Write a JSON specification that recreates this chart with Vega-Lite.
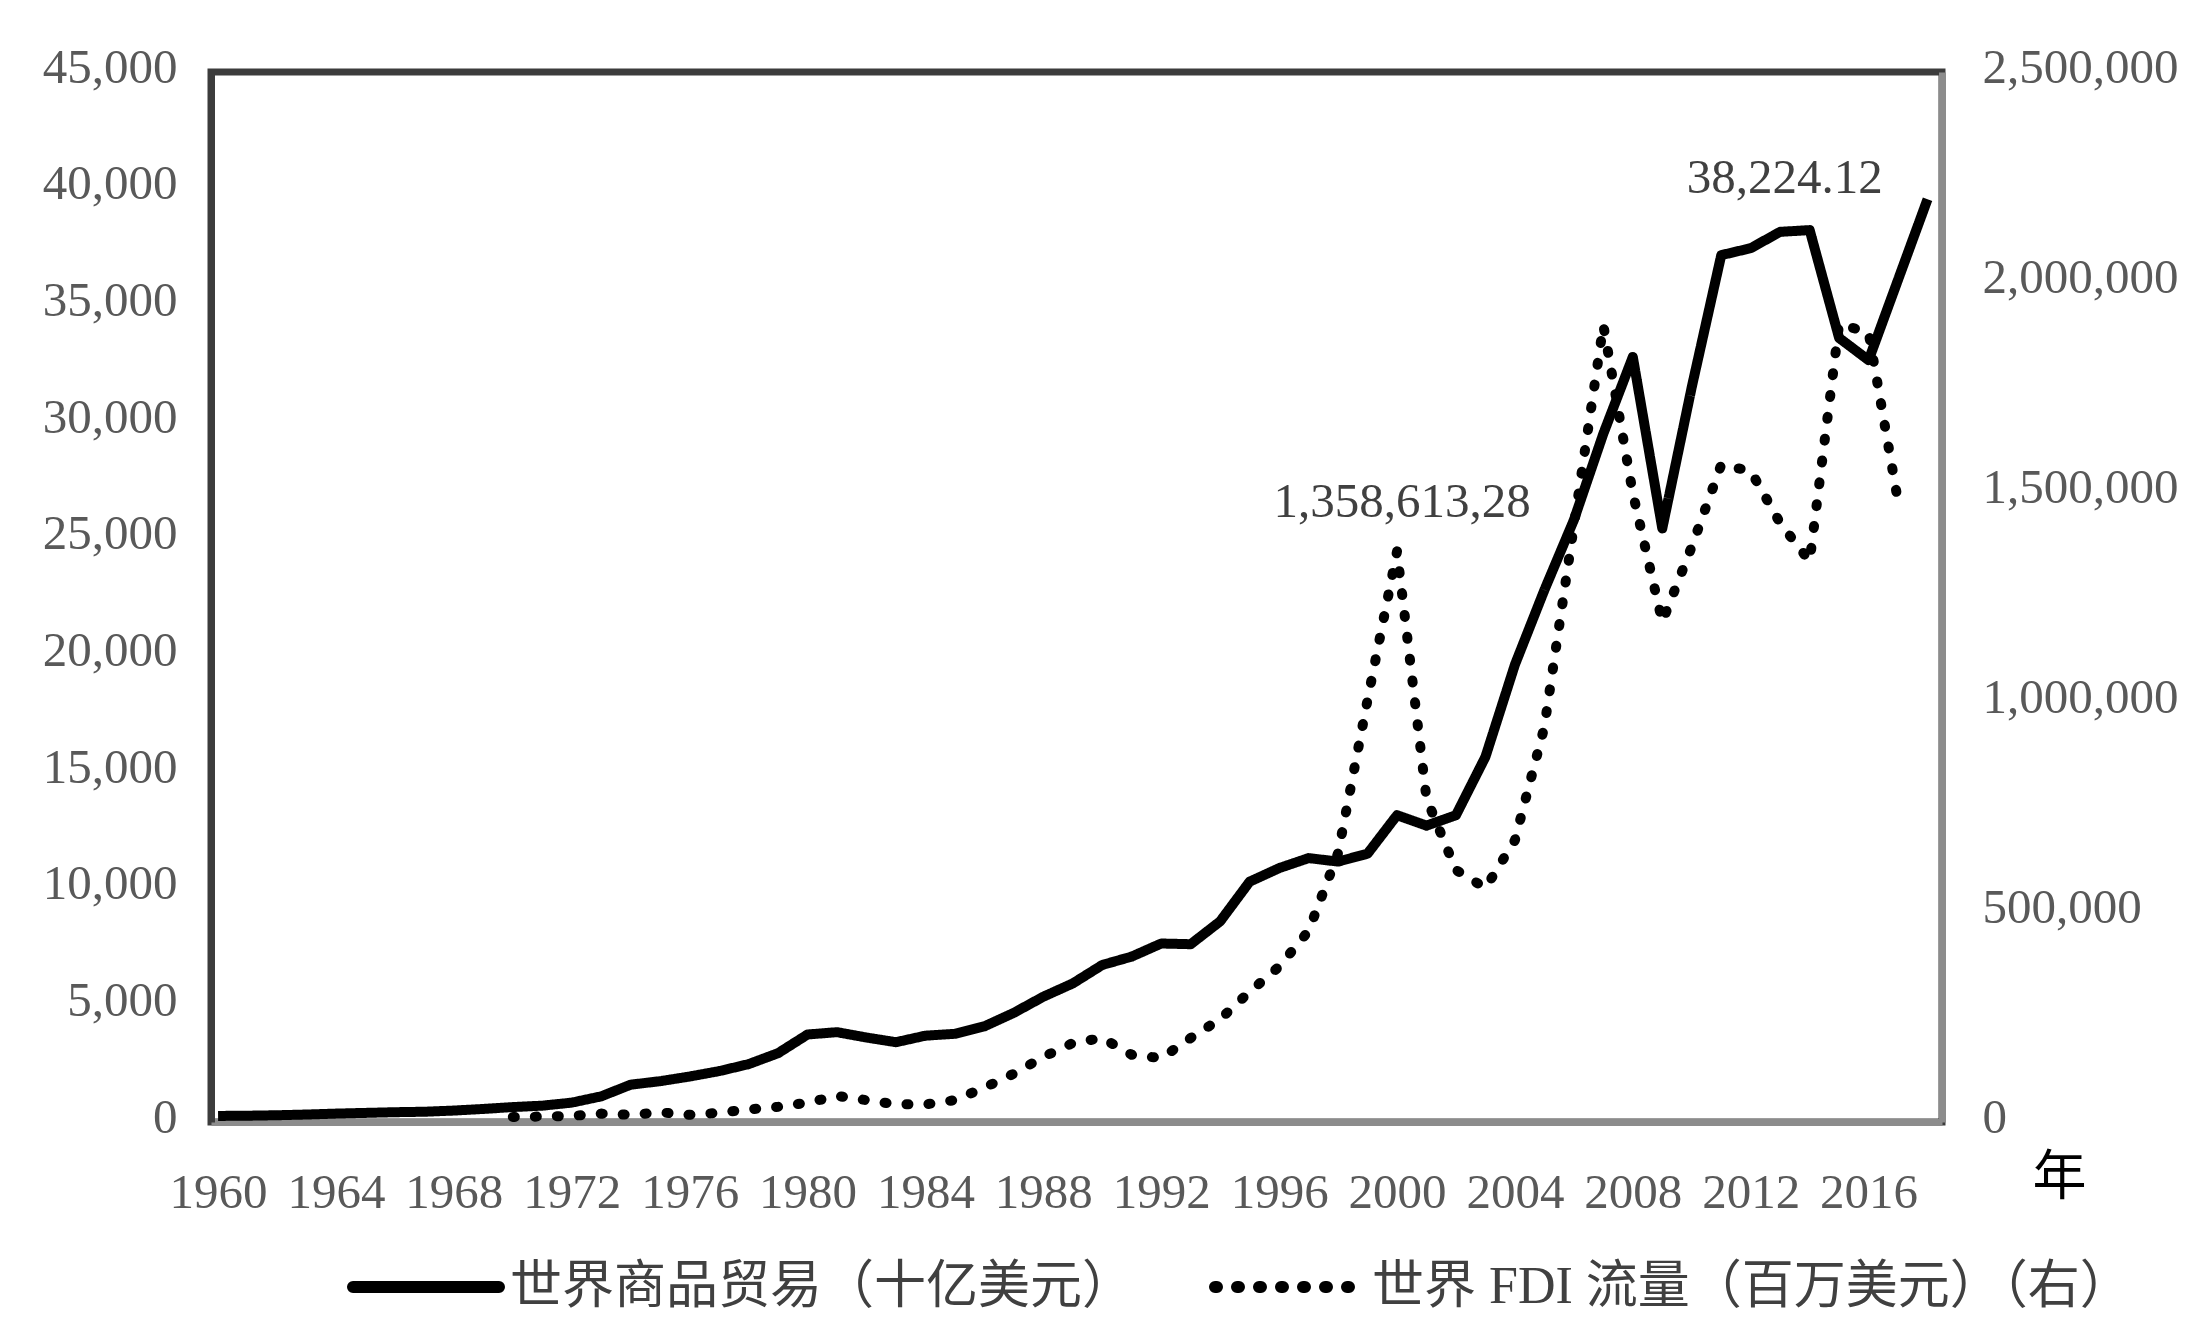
{
  "$schema": "https://vega.github.io/schema/vega-lite/v6.json",
  "width": 1731,
  "height": 1050,
  "autosize": {"type": "none"},
  "padding": {"left": 211, "top": 72, "right": 266, "bottom": 209},
  "background": "white",
  "config": {
    "view": {"stroke": "#3c3c3c", "strokeWidth": 7},
    "axis": {
      "grid": false,
      "ticks": false,
      "tickSize": 0,
      "labelFont": "Liberation Serif",
      "labelFontSize": 49,
      "labelColor": "#595959",
      "labelLimit": 1000,
      "domainWidth": 7,
      "zindex": 1
    },
    "text": {"font": "Liberation Serif", "fontSize": 49, "fill": "#404040"}
  },
  "data": {
    "values": [
      {"year": 1960, "trade": 260},
      {"year": 1961, "trade": 270},
      {"year": 1962, "trade": 290},
      {"year": 1963, "trade": 320},
      {"year": 1964, "trade": 360},
      {"year": 1965, "trade": 390},
      {"year": 1966, "trade": 420},
      {"year": 1967, "trade": 440},
      {"year": 1968, "trade": 490},
      {"year": 1969, "trade": 560},
      {"year": 1970, "trade": 640, "fdi": 12000},
      {"year": 1971, "trade": 700, "fdi": 13000},
      {"year": 1972, "trade": 830, "fdi": 14500},
      {"year": 1973, "trade": 1100, "fdi": 20000},
      {"year": 1974, "trade": 1600, "fdi": 17000},
      {"year": 1975, "trade": 1750, "fdi": 23000},
      {"year": 1976, "trade": 1950, "fdi": 17000},
      {"year": 1977, "trade": 2180, "fdi": 22000},
      {"year": 1978, "trade": 2480, "fdi": 30000},
      {"year": 1979, "trade": 2950, "fdi": 36000},
      {"year": 1980, "trade": 3750, "fdi": 46000},
      {"year": 1981, "trade": 3850, "fdi": 62000},
      {"year": 1982, "trade": 3620, "fdi": 52000},
      {"year": 1983, "trade": 3420, "fdi": 42000},
      {"year": 1984, "trade": 3700, "fdi": 42000},
      {"year": 1985, "trade": 3780, "fdi": 52000},
      {"year": 1986, "trade": 4100, "fdi": 82000},
      {"year": 1987, "trade": 4680, "fdi": 115000},
      {"year": 1988, "trade": 5370, "fdi": 155000},
      {"year": 1989, "trade": 5940, "fdi": 188000},
      {"year": 1990, "trade": 6730, "fdi": 200000},
      {"year": 1991, "trade": 7090, "fdi": 160000},
      {"year": 1992, "trade": 7650, "fdi": 152000},
      {"year": 1993, "trade": 7620, "fdi": 200000},
      {"year": 1994, "trade": 8600, "fdi": 245000},
      {"year": 1995, "trade": 10300, "fdi": 310000},
      {"year": 1996, "trade": 10880, "fdi": 370000},
      {"year": 1997, "trade": 11310, "fdi": 455000},
      {"year": 1998, "trade": 11160, "fdi": 640000},
      {"year": 1999, "trade": 11500, "fdi": 1005000},
      {"year": 2000, "trade": 13150, "fdi": 1358613.28},
      {"year": 2001, "trade": 12700, "fdi": 770000},
      {"year": 2002, "trade": 13150, "fdi": 600000},
      {"year": 2003, "trade": 15650, "fdi": 557000},
      {"year": 2004, "trade": 19600, "fdi": 671000},
      {"year": 2005, "trade": 22800, "fdi": 941000},
      {"year": 2006, "trade": 25800, "fdi": 1420000},
      {"year": 2007, "trade": 29500, "fdi": 1897000},
      {"year": 2008, "trade": 32790, "fdi": 1497000},
      {"year": 2009, "trade": 25440, "fdi": 1191000},
      {"year": 2010, "trade": 31500, "fdi": 1370000},
      {"year": 2011, "trade": 37150, "fdi": 1565000},
      {"year": 2012, "trade": 37450, "fdi": 1550000},
      {"year": 2013, "trade": 38150, "fdi": 1426000},
      {"year": 2014, "trade": 38224.12, "fdi": 1335000},
      {"year": 2015, "trade": 33600, "fdi": 1900000},
      {"year": 2016, "trade": 32650, "fdi": 1880000},
      {"year": 2017, "trade": 36100, "fdi": 1477000},
      {"year": 2018, "trade": 39550}
    ]
  },
  "encoding": {
    "x": {
      "field": "year",
      "type": "quantitative",
      "scale": {"domain": [1959.76, 2018.49], "nice": false, "zero": false},
      "axis": {
        "values": [1960, 1964, 1968, 1972, 1976, 1980, 1984, 1988, 1992, 1996, 2000, 2004, 2008, 2012, 2016],
        "format": "d",
        "labelBaseline": "alphabetic",
        "labelPadding": 85,
        "labelFlush": false,
        "labelOverlap": false,
        "domainColor": "#8c8c8c",
        "title": "年",
        "titleFont": "Noto Sans CJK SC",
        "titleFontSize": 54,
        "titleFontWeight": "normal",
        "titleColor": "#000000",
        "titleX": 1848,
        "titleY": 56,
        "titleAlign": "center",
        "titleBaseline": "middle"
      }
    }
  },
  "layer": [
    {
      "layer": [
        {
          "mark": {"type": "line", "color": "#000000", "strokeWidth": 10, "strokeJoin": "round"},
          "encoding": {
            "y": {
              "field": "trade",
              "type": "quantitative",
              "scale": {"domain": [0, 45000], "nice": false},
              "axis": {
                "orient": "left",
                "values": [0, 5000, 10000, 15000, 20000, 25000, 30000, 35000, 40000, 45000],
                "format": ",.0f",
                "labelPadding": 34,
                "labelOffset": -5,
                "domainColor": "#3c3c3c",
                "title": null
              }
            },
            "strokeDash": {
              "datum": "世界商品贸易（十亿美元）",
              "type": "nominal",
              "scale": {
                "domain": ["世界商品贸易（十亿美元）", "世界 FDI 流量（百万美元）（右）"],
                "range": [[1, 0], [2, 20]]
              },
              "legend": {
                "title": null,
                "orient": "none",
                "legendX": 136,
                "legendY": 1136,
                "direction": "horizontal",
                "padding": 0,
                "symbolType": "stroke",
                "symbolSize": 21316,
                "symbolStrokeWidth": 12,
                "symbolStrokeColor": "#000000",
                "labelFont": "Liberation Serif, Noto Sans CJK SC",
                "labelFontSize": 52,
                "labelColor": "#404040",
                "labelOffset": 5,
                "labelLimit": 1000,
                "columnPadding": 56,
                "encode": {"symbols": {"update": {"strokeCap": {"value": "round"}}}}
              }
            }
          }
        },
        {
          "transform": [{"filter": "datum.year == 2014"}],
          "mark": {"type": "text", "align": "center", "baseline": "alphabetic", "dx": -25, "dy": -37},
          "encoding": {
            "y": {"field": "trade", "type": "quantitative"},
            "text": {"value": "38,224.12"}
          }
        }
      ]
    },
    {
      "transform": [{"filter": "isValid(datum.fdi)"}],
      "layer": [
        {
          "mark": {"type": "line", "color": "#000000", "strokeWidth": 10, "strokeCap": "round", "strokeJoin": "round"},
          "encoding": {
            "y": {
              "field": "fdi",
              "type": "quantitative",
              "scale": {"domain": [0, 2500000], "nice": false},
              "axis": {
                "orient": "right",
                "values": [0, 500000, 1000000, 1500000, 2000000, 2500000],
                "format": ",.0f",
                "labelPadding": 40,
                "labelOffset": -5,
                "domainColor": "#8c8c8c",
                "title": null
              }
            },
            "strokeDash": {"datum": "世界 FDI 流量（百万美元）（右）", "type": "nominal"}
          }
        },
        {
          "transform": [{"filter": "datum.year == 2000"}],
          "mark": {"type": "text", "align": "center", "baseline": "alphabetic", "dx": 5, "dy": -34},
          "encoding": {
            "y": {"field": "fdi", "type": "quantitative"},
            "text": {"value": "1,358,613,28"}
          }
        }
      ]
    }
  ],
  "resolve": {"scale": {"y": "independent"}}
}
